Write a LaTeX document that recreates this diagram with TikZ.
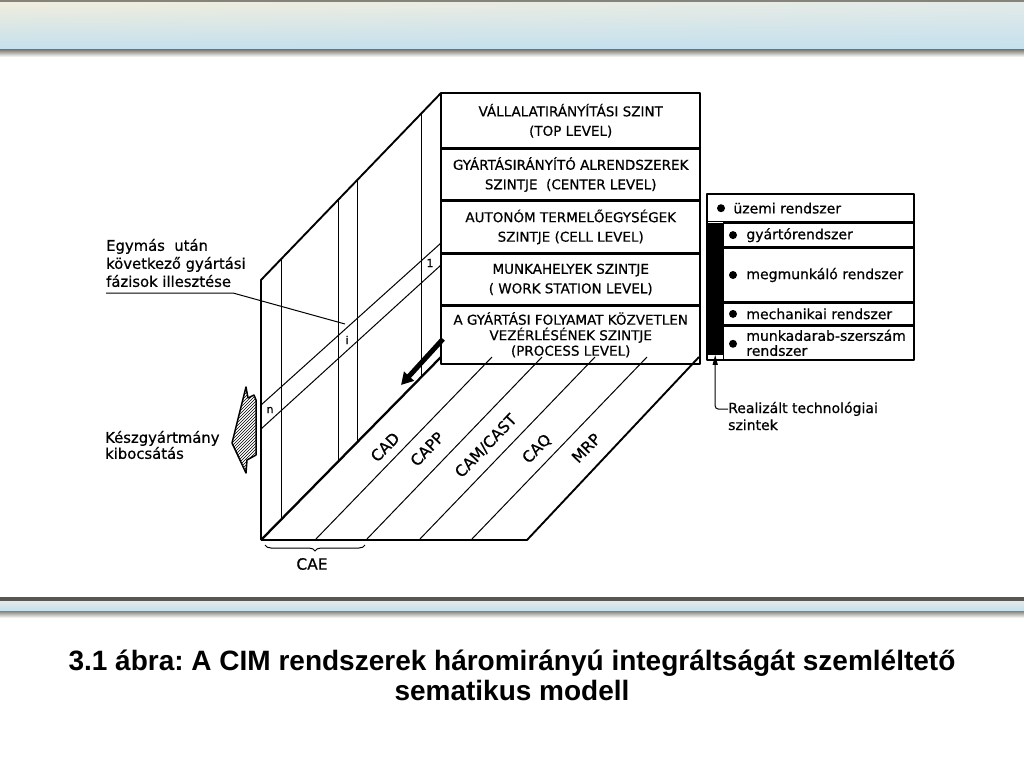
\documentclass[tikz,border=0pt]{standalone}
\usepackage{fontspec}
\setmainfont{DejaVu Sans}[FakeBold=0.6]
\newfontfamily\capfont{Liberation Sans}
\usetikzlibrary{positioning, calc, arrows.meta, patterns, shadings, decorations.pathreplacing}
\frenchspacing

\definecolor{bannercream}{RGB}{239,237,222}
\definecolor{bannermist}{RGB}{226,234,232}
\definecolor{bannerblue}{RGB}{196,224,238}
\definecolor{banneredge}{RGB}{132,132,122}
\definecolor{bannerdark}{RGB}{88,88,82}

\begin{document}
\begin{tikzpicture}[
    x=1pt, y=-1pt,
    outline/.style={line width=1.9pt, line join=round},
    fine/.style={line width=1pt},
    level/.style={draw, line width=1.4pt, minimum width=258pt, inner sep=0pt, align=center,
        font=\fontsize{13.5}{19.5}\selectfont},
    cell/.style={draw, line width=1.4pt, minimum width=190pt, inner sep=0pt},
    bulletdot/.style={circle, fill=black, inner sep=0pt, minimum size=8pt},
    panel text/.style={align=left, inner sep=0pt, font=\fontsize{14}{15}\selectfont},
    note/.style={anchor=west, align=left, inner sep=0pt, font=\fontsize{14.8}{18}\selectfont},
    stripe text/.style={rotate=46, inner sep=0pt, font=\fontsize{15.5}{15.5}\selectfont},
    idx/.style={inner sep=0pt, font=\fontsize{11}{11}\selectfont}
]
\useasboundingbox (0,0) rectangle (1024,768);

% Banners
\fill[banneredge] (0,0) rectangle (1024,3);
\shade[upper left=bannercream, upper right=bannermist, lower left=bannerblue, lower right=bannerblue]
    (0,3) rectangle (1024,50);
\shade[top color=banneredge, bottom color=white] (0,50) rectangle (1024,57);
\fill[bannerdark] (0,597) rectangle (1024,601);
\shade[top color=bannermist, bottom color=bannerblue] (0,601) rectangle (1024,611);
\shade[top color=banneredge, bottom color=white] (0,611) rectangle (1024,618);

% Corners of the block
\coordinate (LT) at (261,280);
\coordinate (LB) at (261,540);
\coordinate (BT) at (441,93);
\coordinate (BB) at (441,357);
\coordinate (RB) at (527,540);
\coordinate (RT) at (699,357);

% Levels (front face)
\node[level, minimum height=54pt, anchor=north west] (lvtop) at (BT)
    {VÁLLALATIRÁNYÍTÁSI SZINT\\(TOP LEVEL)};
\node[level, minimum height=51pt, below=0pt of lvtop] (lvcenter)
    {GYÁRTÁSIRÁNYÍTÓ ALRENDSZEREK\\SZINTJE\ \ (CENTER LEVEL)};
\node[level, minimum height=51pt, below=0pt of lvcenter] (lvcell)
    {AUTONÓM TERMELŐEGYSÉGEK\\SZINTJE (CELL LEVEL)};
\node[level, minimum height=51pt, below=0pt of lvcell] (lvstation)
    {MUNKAHELYEK SZINTJE\\( WORK STATION LEVEL)};
\node[level, minimum height=57pt, below=0pt of lvstation, font=\fontsize{13.5}{15.5}\selectfont] (lvprocess)
    {A GYÁRTÁSI FOLYAMAT KÖZVETLEN\\VEZÉRLÉSÉNEK SZINTJE\\(PROCESS LEVEL)};
\draw[outline] (lvtop.north west) rectangle (lvprocess.south east);

% Side face
\draw[outline] (LB) -- (LT) -- (BT);
\foreach \t in {0.115, 0.43, 0.535, 0.89}
    \draw[fine] ($(LT)!\t!(BT)$) -- ($(LB)!\t!(BB)$);
\coordinate (bandA1) at (261,405);
\coordinate (bandA2) at (441,243);
\coordinate (bandB1) at (261,429);
\coordinate (bandB2) at (441,265);
\draw[fine] (bandA1) -- (bandA2);
\draw[fine] (bandB1) -- (bandB2);
\node[idx] (phase1) at (430,263) {1};
\node[idx] (phasei) at (347,340) {i};
\node[idx] (phasen) at (270,410) {n};

% Bottom face
\draw[outline] (LB) -- (RB) -- (RT);
\draw[line width=2.3pt] (LB) -- (BB);
\foreach \a/\b in {315/492, 366/542, 419/595, 471/647}
    \draw[fine] (\a,540) -- (\b,357);
\foreach \x/\y/\name [count=\i] in {385/447/CAD, 427/449/CAPP, 486/446/{CAM/CAST}, 537/449/CAQ, 586/448/MRP}
    \node[stripe text] (stripe\i) at (\x,\y) {\name};
\draw[fine, decorate, decoration={brace, mirror, amplitude=6pt}] (265,545) -- (365,545);
\node[inner sep=0pt, font=\fontsize{15.5}{15.5}\selectfont] (cae) at (312,564) {CAE};

% Black arrow along the band
\draw[line width=5pt, -{Triangle[length=12pt, width=13pt]}] (443,339) -- (401,385);

% Left notes
\node[note] (phases) at (106,263) {Egymás\ \ után\\következő gyártási\\fázisok illesztése};
\coordinate (phasesfoot) at (106,293);
\coordinate (icell) at (345,324);
\draw[fine] (phasesfoot) -- ++(127,0) -- (icell);
\node[note, font=\fontsize{14.8}{16}\selectfont] (output) at (105,445) {Készgyártmány\\kibocsátás};
\draw[line width=1.5pt, line join=round, pattern=north east lines]
    (232,443) -- (246,387) -- (248,398) -- (254,395) -- (256,400) -- (256,455)
    -- (247,460) -- (246,473) -- cycle;

% Technology levels panel
\node[draw, line width=1.4pt, minimum width=206pt, minimum height=27pt, inner sep=0pt, anchor=north west] (r1) at (707,194) {};
\node[cell, minimum height=24pt, anchor=north east] (r2) at (r1.south east) {};
\node[cell, minimum height=53pt, below=0pt of r2] (r3) {};
\node[cell, minimum height=22pt, below=0pt of r3] (r4) {};
\node[cell, minimum height=33pt, below=0pt of r4] (r5) {};
\node[fill=black, minimum width=16pt, minimum height=132pt, inner sep=0pt, anchor=north west] (bar) at (r1.south west) {};
\draw[outline] (r1.north west) rectangle (r5.south east);

\node[bulletdot] (d1) at ($(r1.west)+(14,0)$) {};
\node[panel text, right=8pt of d1] (t1) {üzemi rendszer};
\node[bulletdot] (d2) at ($(r2.west)+(10,0)$) {};
\node[panel text, right=9pt of d2] (t2) {gyártórendszer};
\node[bulletdot] (d3) at ($(r3.west)+(10,0)$) {};
\node[panel text, right=9pt of d3] (t3) {megmunkáló rendszer};
\node[bulletdot] (d4) at ($(r4.west)+(10,0)$) {};
\node[panel text, right=9pt of d4] (t4) {mechanikai rendszer};
\node[bulletdot] (d5) at ($(r5.west)+(10,1)$) {};
\node[panel text, right=9pt of d5, yshift=1pt] (t5) {munkadarab-szerszám\\rendszer};

\node[note, font=\fontsize{14}{17}\selectfont] (realiz) at (728,416) {Realizált technológiai\\szintek};
\coordinate (realizfoot) at (728,409);
\draw[fine, rounded corners=3pt, -{Triangle[length=10pt, width=5pt]}] (realizfoot) -| (bar.south);

% Caption
\node[font=\capfont\bfseries\fontsize{28}{30}\selectfont, align=center] (caption) at (512,675)
    {3.1 ábra: A CIM rendszerek háromirányú integráltságát szemléltető\\sematikus modell};
\end{tikzpicture}
\end{document}
